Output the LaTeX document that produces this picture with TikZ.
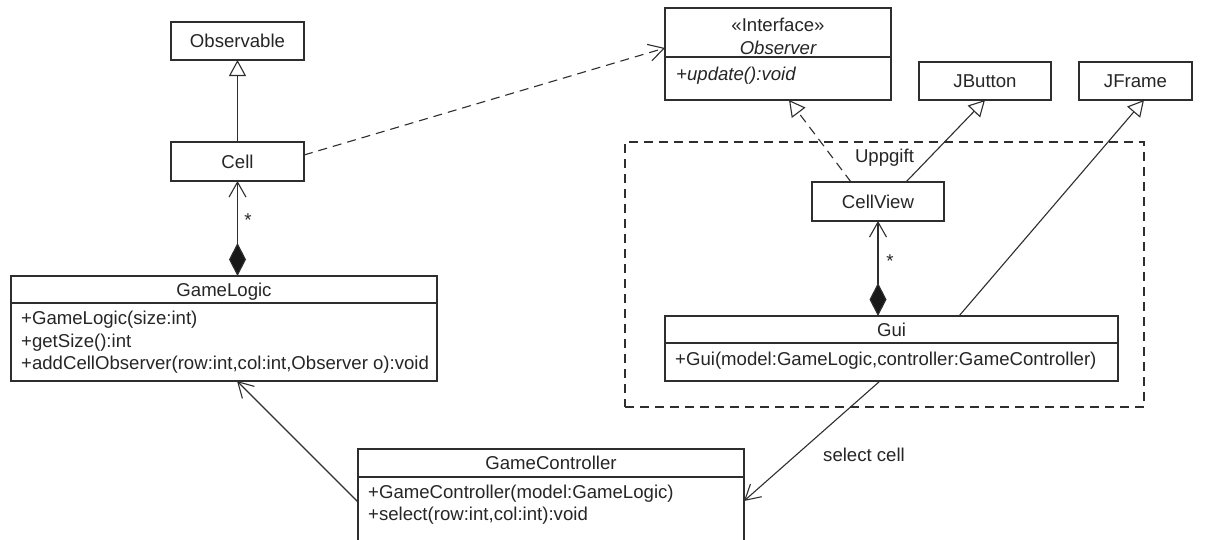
\documentclass[tikz,border=0pt]{standalone}
\usepackage{fontspec}
\setmainfont{Liberation Sans}
\usetikzlibrary{arrows.meta,calc}
\begin{document}
\begin{tikzpicture}[x=1pt,y=-1pt,
  ln/.style={draw=black!82, line width=1.1pt},
  box/.style={ln, fill=white, inner sep=0pt, outer sep=0pt},
  lbl/.style={font=\fontsize{18.6}{22}\selectfont, inner sep=0pt, text=black!85, text height=13.4pt, text depth=0pt},
  dsh/.style={dash pattern=on 9pt off 6pt},
  gen/.style={ln, -{Triangle[open,length=16pt,width=17pt,line width=1.1pt]}},
  barb/.style={ln, -{Straight Barb[length=15pt,width=17pt,line width=1.1pt]}},
  comp/.style={ln, {Diamond[length=33pt,width=17pt,fill=black!90]}-{Straight Barb[length=15pt,width=17pt,line width=1.1pt]}},
]
\clip (0,0) rectangle (1211,539);
\fill[white] (0,0) rectangle (1211,539);

% package frame
\node[ln, dsh, inner sep=0pt, outer sep=0pt, minimum width=519pt, minimum height=265pt] (upg) at (884.5,274.5) {};
\node[lbl] (upgl) at (884.5,156) {Uppgift};

% classes
\node[box, minimum width=133pt, minimum height=38pt] (obsv) at (237.5,41) {};
\node[lbl] (obsvt) at (obsv) {Observable};

\node[box, minimum width=133pt, minimum height=39pt] (cell) at (237.5,161.5) {};
\node[lbl] (cellt) at (cell) {Cell};

\node[box, minimum width=226pt, minimum height=92pt] (obs) at (778,54) {};
\draw[ln] (obs.west |- 0,57) -- (obs.east |- 0,57);
\node[lbl] (obst1) at (778,25) {«Interface»};
\node[lbl] (obst2) at (778,48) {\itshape Observer};
\node[lbl, anchor=west] (obsm) at (676,74) {\itshape +update():void};

\node[box, minimum width=132pt, minimum height=38pt] (jb) at (985,81) {};
\node[lbl] (jbt) at (jb) {JButton};

\node[box, minimum width=113pt, minimum height=38pt] (jf) at (1135.5,81) {};
\node[lbl] (jft) at (jf) {JFrame};

\node[box, minimum width=132pt, minimum height=39pt] (cv) at (878,201.5) {};
\node[lbl] (cvt) at (cv) {CellView};

\node[box, minimum width=453pt, minimum height=65pt] (gui) at (891.5,348.5) {};
\draw[ln] (gui.west |- 0,343) -- (gui.east |- 0,343);
\node[lbl] (guit) at (891.5,329.5) {Gui};
\node[lbl, anchor=west] (guim) at (675,359) {+Gui(model:GameLogic,controller:GameController)};

\node[box, minimum width=426pt, minimum height=105pt] (gl) at (224,328.5) {};
\draw[ln] (gl.west |- 0,303) -- (gl.east |- 0,303);
\node[lbl] (glt) at (224,289.5) {GameLogic};
\node[lbl, anchor=west] (glm1) at (21,318) {+GameLogic(size:int)};
\node[lbl, anchor=west] (glm2) at (21,341) {+getSize():int};
\node[lbl, anchor=west] (glm3) at (21,363) {+addCellObserver(row:int,col:int,Observer o):void};

\node[box, minimum width=386pt, minimum height=116pt] (gc) at (551,507) {};
\draw[ln] (gc.west |- 0,477) -- (gc.east |- 0,477);
\node[lbl] (gct) at (551,463) {GameController};
\node[lbl, anchor=west] (gcm1) at (368,492) {+GameController(model:GameLogic)};
\node[lbl, anchor=west] (gcm2) at (368,514) {+select(row:int,col:int):void};

% connectors
\draw[gen] (cell.north) -- (obsv.south);
\draw[barb, dsh] ([yshift=6.5pt]cell.east) -- ([yshift=6pt]obs.west);
\draw[comp] (cell.south |- gl.north) -- (cell.south);
\node[lbl, anchor=base] (s1) at (248,226) {*};

\draw[gen, dsh] ([xshift=-27pt]cv.north) -- ([xshift=11pt]obs.south);
\draw[gen] ([xshift=28pt]cv.north) -- (jb.south);
\draw[gen] ([xshift=67.5pt]gui.north) -- ([xshift=8.5pt]jf.south);
\draw[comp] (cv.south |- gui.north) -- (cv.south);
\node[lbl, anchor=base] (s2) at (890,267) {*};

\draw[barb] ([xshift=-11.5pt]gui.south) -- ([yshift=6pt]gc.east);
\node[lbl, anchor=west] (sel) at (823,455) {select cell};
\draw[barb] ([yshift=5pt]gc.west) -- ([xshift=13pt]gl.south);
\end{tikzpicture}
\end{document}
